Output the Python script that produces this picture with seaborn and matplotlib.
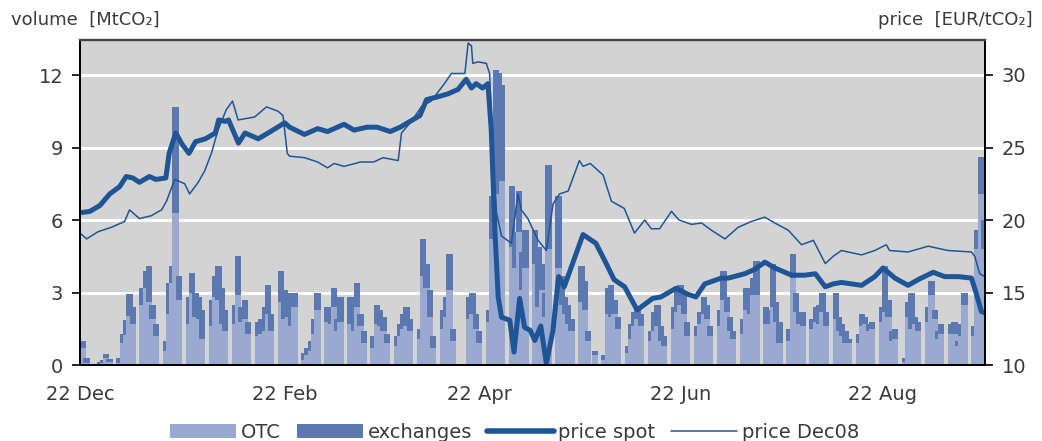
import pandas as pd
import matplotlib
matplotlib.use("Agg")
import matplotlib.pyplot as plt
import matplotlib.dates as mdates
from matplotlib.patches import Patch
from matplotlib.lines import Line2D
import seaborn as sns

# daily traded volume [MtCO2], one row per trading week (Dec 22 2005 - Sep 21 2006)
otc_vol = [
    0.7, 0.1,
    0.0, 0.05, 0.1, 0.3, 0.15,
    0.1, 0.9, 1.25, 2.05, 1.7,
    2.5, 3.2, 2.6, 1.9, 1.2,
    0.6, 2.1, 3.4, 6.3, 2.7,
    1.7, 3.0, 2.0, 1.9, 1.1,
    1.6, 2.8, 2.7, 1.7, 1.4,
    1.7, 2.9, 1.8, 1.9, 1.3,
    1.2, 1.3, 1.4, 2.1, 1.4,
    2.6, 1.9, 2.0, 1.6, 2.4,
    0.2, 0.4, 0.6, 1.3, 2.3,
    1.8, 1.7, 2.4, 1.4, 1.8,
    1.7, 1.4, 2.4, 1.6, 0.9,
    0.7, 1.7, 1.6, 1.4, 0.9,
    0.8, 1.2, 1.5, 1.6, 1.4,
    1.1, 3.7, 3.2, 2.0, 0.7,
    1.5, 2.0, 3.1, 1.0, 0.0,
    0.0, 1.9, 2.1, 1.5, 0.9,
    1.8, 5.2, 6.7, 7.1, 7.6,
    4.9, 4.0, 5.5, 3.1, 4.0,
    4.2, 2.4, 3.1, 2.0, 4.8,
    4.0, 2.5, 2.1, 1.7, 1.4,
    2.6, 2.3, 1.0, 0.0, 0.4,
    0.2, 2.1, 2.0, 2.1, 1.5,
    0.5, 1.1, 1.6, 1.9, 1.6,
    1.0, 1.4, 1.6, 1.0, 0.8,
    1.5, 2.2, 2.5, 2.1, 1.2,
    1.2, 1.7, 2.1, 1.9, 1.2,
    1.6, 2.7, 2.2, 1.4, 1.1,
    1.3, 2.3, 2.1, 2.9, 2.9,
    1.7, 1.7, 2.4, 1.8, 0.9,
    1.0, 3.6, 2.2, 1.7, 1.6,
    1.5, 1.8, 1.7, 2.2, 1.6,
    1.9, 1.4, 1.2, 0.9, 0.9,
    0.9, 1.6, 1.7, 1.4, 1.5,
    1.8, 2.2, 2.0, 1.0, 1.1,
    0.15, 2.0, 1.5, 1.7, 1.4,
    1.8, 2.9, 1.9, 1.1, 1.3,
    1.3, 1.3, 0.8, 1.2, 2.5,
    1.2, 4.8, 7.1, 4.8,
]
exch_vol = [
    0.3, 0.2,
    0.0, 0.1, 0.1, 0.15, 0.1,
    0.2, 0.4, 0.6, 0.9, 0.7,
    0.7, 0.7, 1.5, 0.6, 0.5,
    0.4, 1.3, 0.7, 4.4, 1.0,
    1.1, 0.8, 1.0, 0.9, 1.2,
    1.1, 0.9, 1.4, 1.5, 0.9,
    0.8, 1.6, 0.6, 0.8, 0.5,
    0.6, 0.6, 1.0, 1.2, 0.7,
    1.3, 1.2, 0.8, 1.4, 0.6,
    0.3, 0.3, 0.4, 0.6, 0.7,
    0.6, 0.5, 0.8, 0.5, 1.0,
    1.1, 0.6, 1.0, 0.5, 0.5,
    0.5, 0.8, 0.7, 0.6, 0.4,
    0.4, 0.5, 0.6, 0.8, 0.5,
    0.4, 1.5, 1.0, 1.1, 0.5,
    0.8, 0.8, 1.5, 0.5, 0.0,
    0.0, 0.9, 0.9, 0.6, 0.5,
    0.5, 1.8, 5.5, 5.0, 4.0,
    2.5, 1.5, 1.7, 1.6, 1.6,
    1.4, 2.5, 1.1, 1.0, 3.5,
    3.0, 1.2, 0.7, 0.8, 0.5,
    1.5, 1.2, 0.4, 0.0, 0.2,
    0.2, 1.1, 1.3, 0.6, 0.5,
    0.3, 0.6, 0.6, 0.5, 0.5,
    0.4, 0.8, 0.9, 0.6, 0.4,
    0.9, 0.9, 0.8, 0.8, 0.6,
    0.4, 0.5, 0.7, 0.6, 0.4,
    0.7, 1.2, 0.6, 0.6, 0.3,
    0.6, 0.9, 0.5, 0.7, 1.4,
    0.7, 0.6, 1.8, 0.8, 0.9,
    0.5, 1.0, 0.8, 0.5, 0.6,
    0.4, 0.6, 0.8, 0.8, 0.6,
    1.1, 0.6, 0.5, 0.5, 0.2,
    0.4, 0.5, 0.3, 0.3, 0.3,
    0.6, 1.9, 0.7, 0.4, 0.4,
    0.15, 0.6, 1.5, 0.3, 0.4,
    0.6, 0.6, 0.4, 0.3, 0.4,
    0.4, 0.5, 0.2, 0.5, 0.5,
    0.4, 0.8, 1.5, 1.2,
]

# prices [EUR/tCO2], x = days after 22 Dec 2005
spot_day = [0, 3, 6, 9, 12, 14, 16, 18, 21, 23, 26, 27, 29, 31, 33, 35, 38, 41, 42,
            44, 45, 48, 50, 54, 57, 62, 63.5, 68, 72, 75, 80, 83, 87, 90, 94, 97, 100,
            103, 105, 108.5, 111.5, 114.5, 117, 118.6, 120, 122, 123.6, 124.6, 125.7,
            126.7, 127.7, 130.2, 131.5, 133.2, 134.7, 136.4, 137.8, 139.6, 141.3, 143.3,
            145, 146.7, 152.4, 156.3, 159, 161.8, 165, 168.8, 173.5, 176, 180.6, 184,
            186.6, 189.3, 194.3, 196.4, 201.4, 204.4, 207.5, 210.5, 215.6, 219.6, 222.8,
            225.8, 228.2, 230.7, 236.8, 240.8, 243.3, 246.9, 250.9, 254, 258.5, 262,
            266.2, 270.1, 271.6, 273.1, 274.2]
spot_px = [20.5, 20.6, 21.0, 21.8, 22.3, 23.0, 22.9, 22.6, 23.0, 22.8, 22.9, 24.6, 26.0,
           25.2, 24.6, 25.4, 25.6, 26.0, 26.9, 26.8, 26.9, 25.3, 26.0, 25.6, 26.0, 26.7,
           26.4, 25.9, 26.3, 26.1, 26.6, 26.2, 26.4, 26.4, 26.1, 26.4, 26.8, 27.2, 28.3,
           28.5, 28.7, 29.0, 29.7, 29.1, 29.4, 29.1, 29.4, 26.2, 19.3, 14.7, 13.3, 13.1,
           10.9, 14.6, 12.6, 12.4, 11.7, 12.7, 10.1, 12.4, 16.1, 15.4, 19.0, 18.4, 17.2,
           15.9, 15.4, 13.8, 14.6, 14.7, 15.3, 14.9, 14.7, 15.6, 16.0, 16.0, 16.3, 16.6,
           17.1, 16.7, 16.2, 16.2, 16.3, 15.4, 15.6, 15.7, 15.5, 16.1, 16.7, 16.0, 15.5,
           15.9, 16.4, 16.1, 16.1, 16.0, 14.9, 13.7, 13.6]

dec08_day = [0, 2, 5.5, 9.5, 13.5, 15, 18, 21.6, 24.7, 26.2, 28.7, 31.7, 33.2, 35.8, 37.8,
             39.8, 41.8, 44.3, 46.2, 47.9, 52.9, 56.5, 60, 61.5, 62.8, 63.5, 68, 72, 75,
             77, 80, 85, 89, 91.8, 96.4, 97.4, 100.4, 103.4, 106.4, 110.4, 112.5, 116.6,
             117.6, 118.6, 119, 120.6, 123.1, 124.1, 125.2, 126.2, 127.7, 130.7, 132.7,
             133.7, 135.7, 138.8, 141.3, 143.3, 145.3, 147.9, 151.3, 152.4, 154.6, 158.5,
             161, 164.9, 168, 171.1, 173.1, 175.6, 179.2, 181.5, 185.3, 188.3, 191.3,
             195.4, 199.4, 203.4, 207.5, 210.5, 214.6, 218.6, 222.2, 225.8, 228.2, 230.7,
             236.8, 240.8, 244.3, 245.3, 250.9, 257, 263, 270.1, 271.1, 272.6, 274.2]
dec08_px = [19.1, 18.7, 19.2, 19.5, 19.9, 20.7, 20.1, 20.3, 20.7, 21.3, 22.8, 22.5, 21.8,
            22.6, 23.4, 24.6, 26.2, 27.6, 28.2, 26.9, 27.1, 27.8, 27.5, 27.2, 24.6, 24.4,
            24.3, 24.0, 23.6, 23.9, 23.7, 24.0, 24.0, 24.3, 24.1, 26.0, 26.8, 27.8, 28.2,
            29.4, 30.1, 30.1, 32.2, 32.0, 30.8, 30.9, 30.8, 30.1, 23.9, 20.5, 18.9, 18.4,
            21.8, 20.7, 20.1, 18.6, 17.9, 21.1, 21.8, 22.0, 24.1, 23.7, 23.9, 23.1, 21.3,
            20.8, 19.1, 20.0, 19.4, 19.4, 20.6, 20.0, 19.7, 19.8, 19.3, 18.7, 19.5, 19.9,
            20.2, 19.8, 19.3, 18.3, 18.6, 17.0, 17.5, 17.9, 17.6, 17.9, 18.3, 17.9, 17.8,
            18.2, 17.9, 17.8, 17.5, 16.3, 16.1]

tick_labels = ["22 Dec", "", "22 Feb", "", "22 Apr", "", "22 Jun", "", "22 Aug", ""]

c_otc = "#9aa9d0"
c_exch = "#5c78b1"
c_line = "#1f5596"
c_text = "#3a3a3a"

sns.set_theme(style="white")
plt.rcParams["font.family"] = ["DejaVu Sans"]

start = pd.Timestamp("2005-12-22")
trade_days = pd.bdate_range(start, "2006-09-21")
tick_dates = pd.date_range(start, periods=10, freq=pd.DateOffset(months=1))

fig = plt.figure(figsize=(10.42, 4.41), dpi=100)
ax = fig.add_axes([0.0768, 0.172, 0.8685, 0.737])
ax.set_facecolor("#d3d3d3")

# stacked daily bars, each day drawn over the previous one
b1 = ax.bar(trade_days, otc_vol, width=1.9, align="edge", color=c_otc, linewidth=0)
b2 = ax.bar(trade_days, exch_vol, bottom=otc_vol, width=1.9, align="edge",
            color=c_exch, linewidth=0)
for i, (p1, p2) in enumerate(zip(b1.patches, b2.patches)):
    p1.set_zorder(2 + i * 0.001)
    p2.set_zorder(2 + i * 0.001 + 0.0005)

ax.set_ylim(0, 13.45)
ax.set_yticks([0, 3, 6, 9, 12])
ax.yaxis.grid(True, color="white", linewidth=2)
ax.set_axisbelow(True)
ax.set_xlim(start, start + pd.Timedelta(days=274.2))
ax.set_xticks(tick_dates)
ax.set_xticklabels(tick_labels)

ax2 = ax.twinx()
spot_dates = start + pd.to_timedelta(spot_day, unit="D")
dec08_dates = start + pd.to_timedelta(dec08_day, unit="D")
sns.lineplot(x=dec08_dates, y=dec08_px, ax=ax2, color=c_line, linewidth=1.1)
sns.lineplot(x=spot_dates, y=spot_px, ax=ax2, color=c_line, linewidth=3.6)
ax2.set_ylim(10, 32.4)
ax2.set_yticks([10, 15, 20, 25, 30])
ax2.set_xlim(start, start + pd.Timedelta(days=274.2))
ax2.set_ylabel("")

for a in (ax, ax2):
    a.tick_params(axis="both", direction="out", length=6, width=1.2, colors="black",
                  labelcolor=c_text, labelsize=14, pad=6)
    for side in ("left", "right", "bottom"):
        a.spines[side].set_color("black")
        a.spines[side].set_linewidth(1.3)
    a.spines["top"].set_color("#444444")
    a.spines["top"].set_linewidth(1.6)
ax.tick_params(axis="x", pad=8)

fig.text(0.011, 0.955, "volume  [MtCO₂]", fontsize=13, color=c_text, ha="left", va="center")
fig.text(0.991, 0.955, "price  [EUR/tCO₂]", fontsize=13, color=c_text, ha="right", va="center")

handles = [
    Patch(facecolor=c_otc, edgecolor="none"),
    Patch(facecolor=c_exch, edgecolor="none"),
    Line2D([], [], color=c_line, linewidth=4),
    Line2D([], [], color=c_line, linewidth=1.1),
]
fig.legend(handles, ["OTC", "exchanges", "price spot", "price Dec08"], loc="center",
           bbox_to_anchor=(0.494, 0.02), ncol=4, frameon=False, fontsize=14,
           handlelength=3.4, handletextpad=0.25, columnspacing=0.8, labelcolor=c_text)

fig.savefig("out.png", dpi=100)
